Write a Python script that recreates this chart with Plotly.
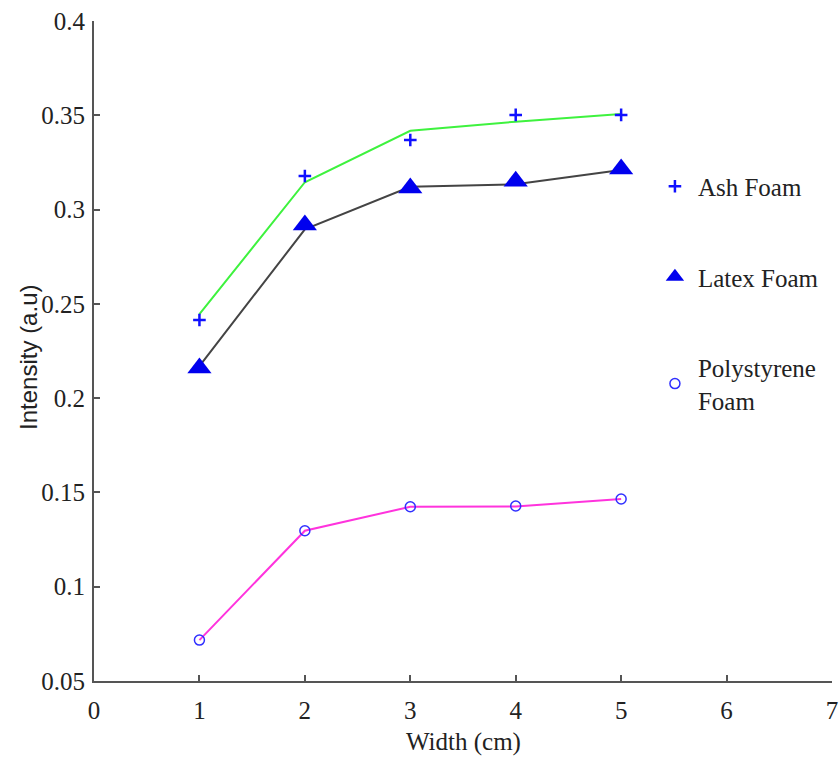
import plotly.graph_objects as go

width_cm = [1, 2, 3, 4, 5]

ash_points = [0.2414, 0.3178, 0.3369, 0.3502, 0.3502]
ash_fit = [0.2445, 0.3145, 0.3418, 0.3466, 0.3507]

latex_points = [0.2160, 0.2918, 0.3114, 0.3150, 0.3215]
latex_fit = [0.2170, 0.2895, 0.3121, 0.3134, 0.3210]

poly_points = [0.0717, 0.1297, 0.1424, 0.1428, 0.1465]
poly_fit = [0.0717, 0.1297, 0.1424, 0.1425, 0.1465]

x_ticks = [0, 1, 2, 3, 4, 5, 6, 7]
y_ticks = [0.05, 0.1, 0.15, 0.2, 0.25, 0.3, 0.35, 0.4]
y_tick_text = ["0.05", "0.1", "0.15", "0.2", "0.25", "0.3", "0.35", "0.4"]

serif = "Liberation Serif, Times New Roman, serif"
sans = "Liberation Sans, Arial, sans-serif"

fig = go.Figure()

# fitted lines
fig.add_trace(go.Scatter(x=width_cm, y=ash_fit, mode="lines",
                         line=dict(color="#3ef23e", width=2), showlegend=False))
fig.add_trace(go.Scatter(x=width_cm, y=latex_fit, mode="lines",
                         line=dict(color="#444444", width=2), showlegend=False))
fig.add_trace(go.Scatter(x=width_cm, y=poly_fit, mode="lines",
                         line=dict(color="#ff33dd", width=2), showlegend=False))

# measured points
fig.add_trace(go.Scatter(x=width_cm, y=ash_points, mode="markers", name="Ash Foam",
                         legendgroup="a",
                         marker=dict(symbol="cross-thin", size=9, color="#1010ff",
                                     line=dict(color="#1010ff", width=2.5))))
fig.add_trace(go.Scatter(x=width_cm, y=latex_points, mode="markers", name="Latex Foam",
                         legendgroup="b",
                         marker=dict(symbol="triangle-up", size=21, color="#0000ee",
                                     line=dict(width=0))))
fig.add_trace(go.Scatter(x=width_cm, y=poly_points, mode="markers",
                         name="Polystyrene<br>Foam", legendgroup="c",
                         marker=dict(symbol="circle-open", size=10, color="#3030ff",
                                     line=dict(color="#3030ff", width=1.5))))

fig.update_layout(
    width=840, height=762,
    margin=dict(l=94, r=8, t=21, b=81),
    paper_bgcolor="white", plot_bgcolor="white",
    font=dict(family=serif, size=25, color="#222222"),
    showlegend=True,
    legend=dict(x=0.756, y=0.784, xanchor="left", yanchor="top",
                bgcolor="rgba(0,0,0,0)", borderwidth=0,
                tracegroupgap=55, itemsizing="trace", itemwidth=36,
                font=dict(family=serif, size=25, color="#222222")),
    xaxis=dict(range=[0, 7], tickmode="array", tickvals=x_ticks,
               showgrid=False, zeroline=False, automargin=False,
               showline=True, linecolor="#555555", linewidth=2,
               ticks="inside", ticklen=6, tickwidth=1.5, tickcolor="#555555",
               ticklabelstandoff=6, ticklabeloverflow="allow",
               tickfont=dict(family=serif, size=25, color="#222222")),
    yaxis=dict(range=[0.05, 0.4], tickmode="array", tickvals=y_ticks,
               ticktext=y_tick_text, automargin=False,
               showgrid=False, zeroline=False,
               showline=True, linecolor="#555555", linewidth=2,
               ticks="inside", ticklen=6, tickwidth=1.5, tickcolor="#555555",
               ticklabelstandoff=2, ticklabeloverflow="allow",
               tickfont=dict(family=serif, size=25, color="#222222")),
    annotations=[
        dict(text="Width (cm)", xref="paper", yref="paper",
             x=0.5, y=-0.093, xanchor="center", yanchor="middle",
             showarrow=False, font=dict(family=serif, size=25, color="#222222")),
        dict(text="Intensity (a.u)", xref="paper", yref="paper",
             x=-0.089, y=0.49, xanchor="center", yanchor="middle", textangle=-90,
             showarrow=False, font=dict(family=sans, size=24, color="#222222")),
    ],
)

fig.write_html("out.html", config={"displayModeBar": False},
               post_script="document.body.style.margin='0';document.body.style.overflow='hidden';")
